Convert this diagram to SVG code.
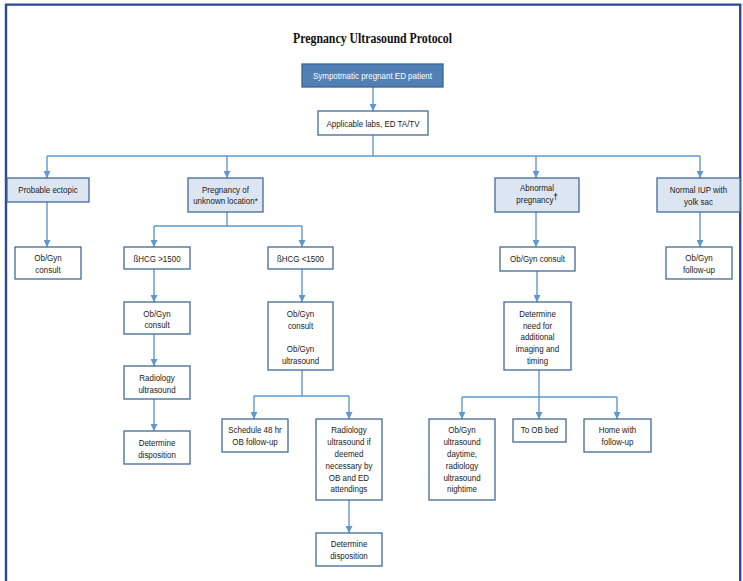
<svg xmlns="http://www.w3.org/2000/svg" width="743" height="581" viewBox="0 0 743 581">
  <style>
    .frame { fill: none; stroke: #2d4699; stroke-width: 2.4; }
    .title { font-family: "Liberation Serif", "Times New Roman", serif; font-weight: bold; font-size: 14px; fill: #111; text-anchor: middle; }
    .box { fill: #ffffff; stroke: #3f6b98; stroke-width: 1.3; }
    .cat { fill: #dce6f2; }
    .start { fill: #5080b4; stroke: #3a6594; }
    .lbl { font-family: "Liberation Sans", Arial, sans-serif; font-size: 9.6px; fill: #222; text-anchor: middle; }
    .light { fill: #ffffff; }
    .edge { fill: none; stroke: #5f98d0; stroke-width: 1.4; marker-end: url(#arrow); }
    .trunk { fill: none; stroke: #5f98d0; stroke-width: 1.4; }
  </style>
  <defs>
    <marker id="arrow" viewBox="0 0 10 10" refX="10" refY="5" markerWidth="7" markerHeight="7" markerUnits="userSpaceOnUse" orient="auto">
      <path d="M0,0 L10,5 L0,10 z" fill="#5f98d0"/>
    </marker>
  </defs>

  <rect width="743" height="581" fill="#ffffff"/>
  <!-- page frame, open at the bottom -->
  <path class="frame" d="M6,590 V4.6 H740.2 V590"/>

  <text class="title" x="372.5" y="42.7" textLength="159" lengthAdjust="spacingAndGlyphs">Pregnancy Ultrasound Protocol</text>

  <!-- connectors -->
  <g id="connectors">
    <path class="edge" d="M373,87 V111"/>
    <path class="trunk" d="M373,135 V156 M47,156 H700"/>
    <path class="edge" d="M47,156 V178"/>
    <path class="edge" d="M227,156 V178"/>
    <path class="edge" d="M536,156 V178"/>
    <path class="edge" d="M700,156 V178"/>

    <path class="edge" d="M47,202 V247"/>

    <path class="trunk" d="M227,212 V226 M154,226 H302"/>
    <path class="edge" d="M154,226 V247"/>
    <path class="edge" d="M302,226 V247"/>
    <path class="edge" d="M154,269 V302"/>
    <path class="edge" d="M154,334 V366"/>
    <path class="edge" d="M154,399 V431"/>
    <path class="edge" d="M302,269 V302"/>
    <path class="trunk" d="M302,370 V396 M254,396 H349"/>
    <path class="edge" d="M254,396 V419"/>
    <path class="edge" d="M349,396 V419"/>
    <path class="edge" d="M349,500 V533"/>

    <path class="edge" d="M536,212 V247"/>
    <path class="edge" d="M537,271 V302"/>
    <path class="trunk" d="M539,370 V397 M462,397 H617"/>
    <path class="edge" d="M462,397 V419"/>
    <path class="edge" d="M539,397 V419"/>
    <path class="edge" d="M617,397 V419"/>

    <path class="edge" d="M700,212 V247"/>
  </g>

  <!-- nodes; labels are narrowed horizontally about their own centre -->
  <g id="n-start">
    <rect class="box start" x="302" y="64" width="141" height="23"/>
    <text class="lbl light" x="372.5" y="79.4" transform="matrix(0.83 0 0 1 63.325 0)">Sympotmatic pregnant ED patient</text>
  </g>
  <g id="n-labs">
    <rect class="box" x="318" y="111" width="110" height="24"/>
    <text class="lbl" x="373" y="126.8" transform="matrix(0.83 0 0 1 63.41 0)">Applicable labs, ED TA/TV</text>
  </g>

  <g id="n-ectopic">
    <rect class="box cat" x="7" y="178" width="82" height="24"/>
    <text class="lbl" x="48" y="193.5" transform="matrix(0.83 0 0 1 8.16 0)">Probable ectopic</text>
  </g>
  <g id="n-pul">
    <rect class="box cat" x="188" y="178" width="75" height="34"/>
    <text class="lbl" x="225.5" y="192.7" transform="matrix(0.83 0 0 1 38.335 0)">Pregnancy of<tspan x="225.5" dy="11.8">unknown location*</tspan></text>
  </g>
  <g id="n-abnormal">
    <rect class="box cat" x="495" y="178" width="84" height="34"/>
    <text class="lbl" x="537" y="191.3" transform="matrix(0.83 0 0 1 91.29 0)">Abnormal<tspan x="537" dy="11.8">pregnancy</tspan><tspan font-weight="bold" font-size="9" dy="-3">†</tspan></text>
  </g>
  <g id="n-iup">
    <rect class="box cat" x="657" y="178" width="83" height="34"/>
    <text class="lbl" x="698.5" y="192.8" transform="matrix(0.83 0 0 1 118.745 0)">Normal IUP with<tspan x="698.5" dy="11.8">yolk sac</tspan></text>
  </g>

  <g id="n-ectopic-consult">
    <rect class="box" x="15" y="247" width="66" height="32"/>
    <text class="lbl" x="48" y="261" transform="matrix(0.83 0 0 1 8.16 0)">Ob/Gyn<tspan x="48" dy="11.8">consult</tspan></text>
  </g>

  <g id="n-hcg-high">
    <rect class="box" x="124" y="247" width="66" height="22"/>
    <text class="lbl" x="157" y="261.6" transform="matrix(0.83 0 0 1 26.69 0)">ßHCG &gt;1500</text>
  </g>
  <g id="n-high-consult">
    <rect class="box" x="124" y="302" width="66" height="32"/>
    <text class="lbl" x="157" y="316.6" transform="matrix(0.83 0 0 1 26.69 0)">Ob/Gyn<tspan x="157" dy="11.8">consult</tspan></text>
  </g>
  <g id="n-high-radiology">
    <rect class="box" x="124" y="366" width="66" height="33"/>
    <text class="lbl" x="157" y="381" transform="matrix(0.83 0 0 1 26.69 0)">Radiology<tspan x="157" dy="11.8">ultrasound</tspan></text>
  </g>
  <g id="n-high-disposition">
    <rect class="box" x="124" y="431" width="66" height="33"/>
    <text class="lbl" x="157" y="445.8" transform="matrix(0.83 0 0 1 26.69 0)">Determine<tspan x="157" dy="11.8">disposition</tspan></text>
  </g>

  <g id="n-hcg-low">
    <rect class="box" x="268" y="247" width="65" height="22"/>
    <text class="lbl" x="300.5" y="261.6" transform="matrix(0.83 0 0 1 51.085 0)">ßHCG &lt;1500</text>
  </g>
  <g id="n-low-consult">
    <rect class="box" x="268" y="302" width="65" height="68"/>
    <text class="lbl" x="300.5" y="316.8" transform="matrix(0.83 0 0 1 51.085 0)">Ob/Gyn<tspan x="300.5" dy="11.8">consult</tspan><tspan x="300.5" dy="23.6">Ob/Gyn</tspan><tspan x="300.5" dy="11.8">ultrasound</tspan></text>
  </g>
  <g id="n-schedule">
    <rect class="box" x="222" y="419" width="66" height="33"/>
    <text class="lbl" x="255" y="433.5" transform="matrix(0.83 0 0 1 43.35 0)">Schedule 48 hr<tspan x="255" dy="11.8">OB follow-up</tspan></text>
  </g>
  <g id="n-radiology-if">
    <rect class="box" x="316" y="419" width="66" height="81"/>
    <text class="lbl" x="349" y="433.5" transform="matrix(0.83 0 0 1 59.33 0)">Radiology<tspan x="349" dy="11.8">ultrasound if</tspan><tspan x="349" dy="11.8">deemed</tspan><tspan x="349" dy="11.8">necessary by</tspan><tspan x="349" dy="11.8">OB and ED</tspan><tspan x="349" dy="11.8">attendings</tspan></text>
  </g>
  <g id="n-low-disposition">
    <rect class="box" x="316" y="533" width="66" height="33"/>
    <text class="lbl" x="349" y="547.5" transform="matrix(0.83 0 0 1 59.33 0)">Determine<tspan x="349" dy="11.8">disposition</tspan></text>
  </g>

  <g id="n-abnormal-consult">
    <rect class="box" x="500" y="247" width="75" height="24"/>
    <text class="lbl" x="537.5" y="261.8" transform="matrix(0.83 0 0 1 91.375 0)">Ob/Gyn consult</text>
  </g>
  <g id="n-determine-need">
    <rect class="box" x="504" y="302" width="67" height="68"/>
    <text class="lbl" x="537.5" y="316.8" transform="matrix(0.83 0 0 1 91.375 0)">Determine<tspan x="537.5" dy="11.8">need for</tspan><tspan x="537.5" dy="11.8">additional</tspan><tspan x="537.5" dy="11.8">imaging and</tspan><tspan x="537.5" dy="11.8">timing</tspan></text>
  </g>
  <g id="n-ultrasound-day">
    <rect class="box" x="429" y="419" width="66" height="81"/>
    <text class="lbl" x="462" y="433.5" transform="matrix(0.83 0 0 1 78.54 0)">Ob/Gyn<tspan x="462" dy="11.8">ultrasound</tspan><tspan x="462" dy="11.8">daytime,</tspan><tspan x="462" dy="11.8">radiology</tspan><tspan x="462" dy="11.8">ultrasound</tspan><tspan x="462" dy="11.8">nightime</tspan></text>
  </g>
  <g id="n-ob-bed">
    <rect class="box" x="513" y="419" width="53" height="23"/>
    <text class="lbl" x="539.5" y="433.2" transform="matrix(0.83 0 0 1 91.715 0)">To OB bed</text>
  </g>
  <g id="n-home">
    <rect class="box" x="584" y="419" width="67" height="33"/>
    <text class="lbl" x="617.5" y="433.5" transform="matrix(0.83 0 0 1 104.975 0)">Home with<tspan x="617.5" dy="11.8">follow-up</tspan></text>
  </g>

  <g id="n-iup-followup">
    <rect class="box" x="666" y="247" width="66" height="32"/>
    <text class="lbl" x="699" y="261" transform="matrix(0.83 0 0 1 118.83 0)">Ob/Gyn<tspan x="699" dy="11.8">follow-up</tspan></text>
  </g>
</svg>
